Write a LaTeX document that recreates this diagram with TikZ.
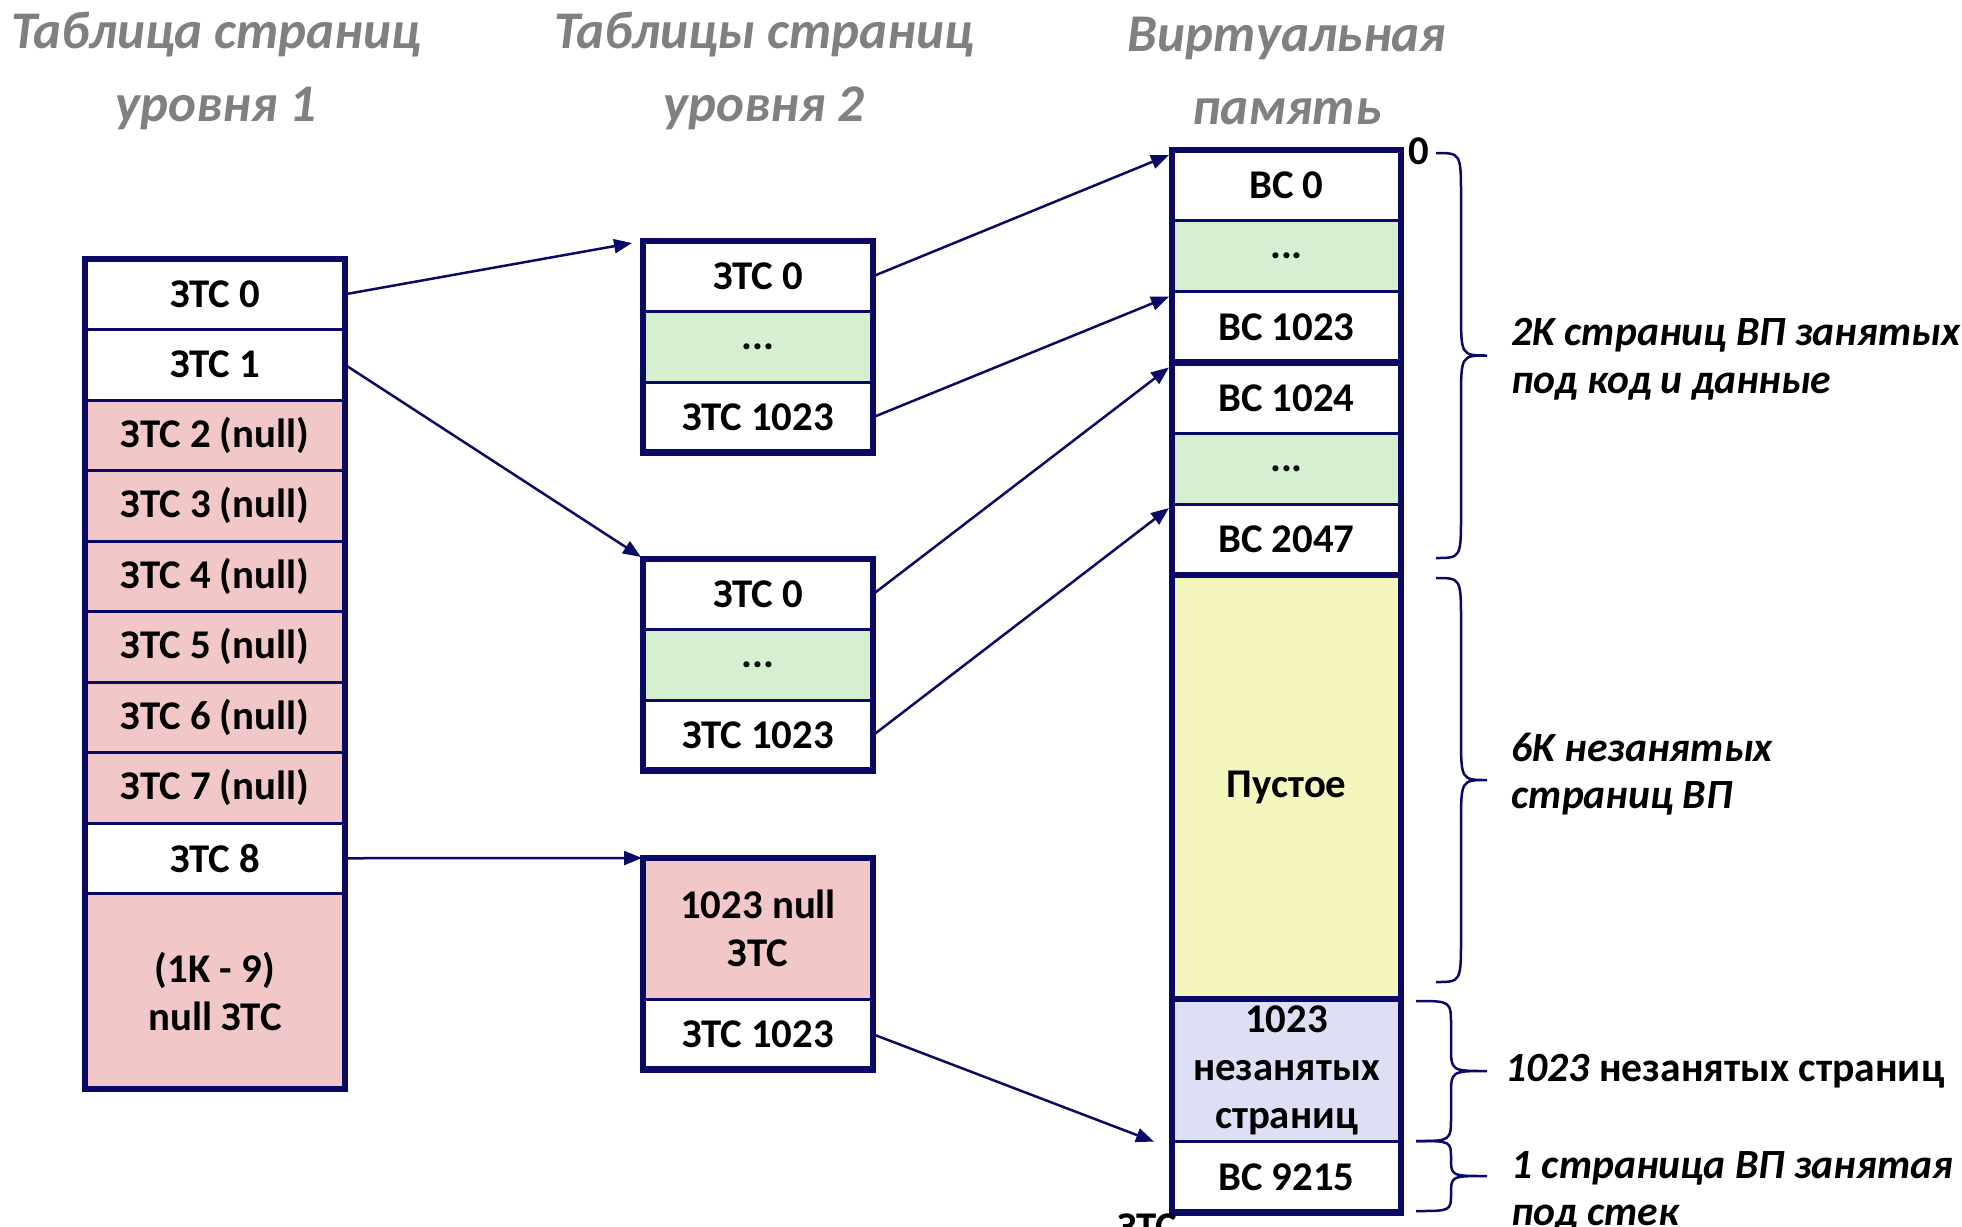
\documentclass[tikz,border=0pt]{standalone}
\usepackage{fontspec}
\setmainfont{Carlito}
\usetikzlibrary{arrows.meta}

\definecolor{navy}{RGB}{10,10,102}
\definecolor{nullpink}{RGB}{241,199,199}
\definecolor{dotsgreen}{RGB}{214,239,208}
\definecolor{emptyyellow}{RGB}{245,245,190}
\definecolor{freelilac}{RGB}{222,222,245}
\definecolor{titlegray}{RGB}{128,128,128}

\newcommand\cellfont{\fontsize{20.4}{24}\selectfont\bfseries}
\newcommand\titlefont{\fontsize{26.5}{36.5}\selectfont\bfseries\itshape}
\newcommand\notefont{\fontsize{20.8}{23.75}\selectfont\bfseries\itshape}

% vertical curly brace: left end x, stem x, tip x, top y, bottom y, corner radius
\newcommand\membrace[6]{%
  \pgfmathsetmacro\bmid{(#4+#5)/2}%
  \draw[bracestyle] (#1,#4) .. controls (#2,#4) .. (#2,{#4+#6})
    -- (#2,{\bmid-#6}) .. controls (#2,\bmid) .. (#3,\bmid)
    .. controls (#2,\bmid) .. (#2,{\bmid+#6})
    -- (#2,{#5-#6}) .. controls (#2,#5) .. (#1,#5);}

\tikzset{
  cell/.style={draw=navy, line width=1.5pt, inner sep=0pt, outer sep=0pt,
    font=\cellfont, align=center, text=black, fill=white},
  lvlone/.style={cell, minimum width=130pt, minimum height=35.25pt},
  lvltwo/.style={cell, minimum width=115pt, minimum height=35.25pt},
  vmem/.style={cell, minimum width=114.5pt, minimum height=35.4pt},
  outerbox/.style={draw=navy, line width=3.25pt},
  heavysep/.style={draw=navy, line width=3.25pt},
  ptr/.style={draw=navy, line width=1.25pt, -{Triangle[length=9pt,width=7pt]}},
  bracestyle/.style={draw=navy, line width=1.25pt},
  title/.style={font=\titlefont, text=titlegray, align=center, inner sep=0pt},
  note/.style={font=\notefont, text=black, align=left, anchor=west, inner sep=0pt},
}

\begin{document}
\begin{tikzpicture}[x=0.5pt,y=-0.5pt]
\useasboundingbox (0,0) rectangle (1962,1226);
\clip (0,0) rectangle (1962,1226);

% column headings
\node[title] (hone) at (216,71) {Таблица страниц\\уровня 1};
\node[title] (htwo) at (764,71) {Таблицы страниц\\уровня 2};
\node[title] (hvm) at (1287,71) {Виртуальная\\память};

% level-1 page table
\node[lvlone] (a0) at (215,294.25) {ЗТС 0};
\node[lvlone] (a1) at (215,364.75) {ЗТС 1};
\node[lvlone, fill=nullpink] (a2) at (215,435.25) {ЗТС 2 (null)};
\node[lvlone, fill=nullpink] (a3) at (215,505.75) {ЗТС 3 (null)};
\node[lvlone, fill=nullpink] (a4) at (215,576.25) {ЗТС 4 (null)};
\node[lvlone, fill=nullpink] (a5) at (215,646.75) {ЗТС 5 (null)};
\node[lvlone, fill=nullpink] (a6) at (215,717.25) {ЗТС 6 (null)};
\node[lvlone, fill=nullpink] (a7) at (215,787.75) {ЗТС 7 (null)};
\node[lvlone] (a8) at (215,858.25) {ЗТС 8};
\node[lvlone, fill=nullpink, minimum height=97.75pt] (a9) at (215,991.25) {(1K - 9)\\null ЗТС};
\draw[outerbox] (a0.north west) rectangle (a9.south east);

% level-2 page tables
\node[lvltwo] (b0) at (758,276.25) {ЗТС 0};
\node[lvltwo, fill=dotsgreen] (b1) at (758,346.75) {...};
\node[lvltwo] (b2) at (758,417.25) {ЗТС 1023};
\draw[outerbox] (b0.north west) rectangle (b2.south east);

\node[lvltwo] (c0) at (758,594.25) {ЗТС 0};
\node[lvltwo, fill=dotsgreen] (c1) at (758,664.75) {...};
\node[lvltwo] (c2) at (758,735.25) {ЗТС 1023};
\draw[outerbox] (c0.north west) rectangle (c2.south east);

\node[lvltwo, fill=nullpink, minimum height=70.5pt] (d0) at (758,928.5) {1023 null\\ЗТС};
\node[lvltwo] (d1) at (758,1034.25) {ЗТС 1023};
\draw[outerbox] (d0.north west) rectangle (d1.south east);

% virtual memory
\node[vmem] (v0) at (1286.5,185.4) {ВС 0};
\node[vmem, fill=dotsgreen] (v1) at (1286.5,256.2) {...};
\node[vmem] (v2) at (1286.5,327) {ВС 1023};
\node[vmem] (v3) at (1286.5,397.8) {ВС 1024};
\node[vmem, fill=dotsgreen] (v4) at (1286.5,468.6) {...};
\node[vmem] (v5) at (1286.5,539.4) {ВС 2047};
\node[vmem, fill=emptyyellow, minimum height=212.6pt] (v6) at (1286.5,787.4) {\raisebox{-1.5pt}{Пустое}};
\node[vmem, fill=freelilac, minimum height=70.8pt] (v7) at (1286.5,1070.8) {\raisebox{-1.5pt}{\begin{tabular}{@{}c@{}}1023\\незанятых\\страниц\end{tabular}}};
\node[vmem] (v8) at (1286.5,1177) {ВС 9215};
\draw[outerbox] (v0.north west) rectangle (v8.south east);
\draw[heavysep] (v3.north west) -- (v3.north east);
\draw[heavysep] (v6.north west) -- (v6.north east);
\draw[heavysep] (v7.north west) -- (v7.north east);

\node[font=\cellfont, inner sep=0pt] (zero) at (1419,151) {0};
\node[font=\cellfont, anchor=north west, inner sep=0pt] (cut) at (1117,1213) {ЗТС};

% pointers
\draw[ptr] (a0.east) -- ([shift={(-11,2)}]b0.north west);
\draw[ptr] (a1.east) -- ([shift={(-2,-2)}]c0.north west);
\draw[ptr] (a8.east) -- ([shift={(-1,0)}]d0.north west);
\draw[ptr] (b0.east) -- ([shift={(-3,5)}]v0.north west);
\draw[ptr] (b2.east) -- ([shift={(-3,5)}]v2.north west);
\draw[ptr] (c0.east) -- ([shift={(-3,5)}]v3.north west);
\draw[ptr] (c2.east) -- ([shift={(-3,4)}]v5.north west);
\draw[ptr] (d1.east) -- ([shift={(-18,0)}]v8.north west);

% braces
\membrace{1436}{1461}{1487}{153}{558}{45}
\membrace{1436}{1461}{1487}{578}{982}{45}
\membrace{1416}{1451}{1487}{1001}{1141}{25}
\membrace{1416}{1451}{1487}{1141}{1211}{18}

% annotations
\node[note] (n1) at (1511,359) {2K страниц ВП занятых\\под код и данные};
\node[note] (n2) at (1511,774) {6K незанятых\\страниц ВП};
\node[note, font=\fontsize{20.8}{23.75}\selectfont\bfseries] (n3) at (1505,1071) {\itshape 1023\upshape{} незанятых страниц};
\node[note] (n4) at (1511,1192) {1 страница ВП занятая\\под стек};
\end{tikzpicture}
\end{document}
